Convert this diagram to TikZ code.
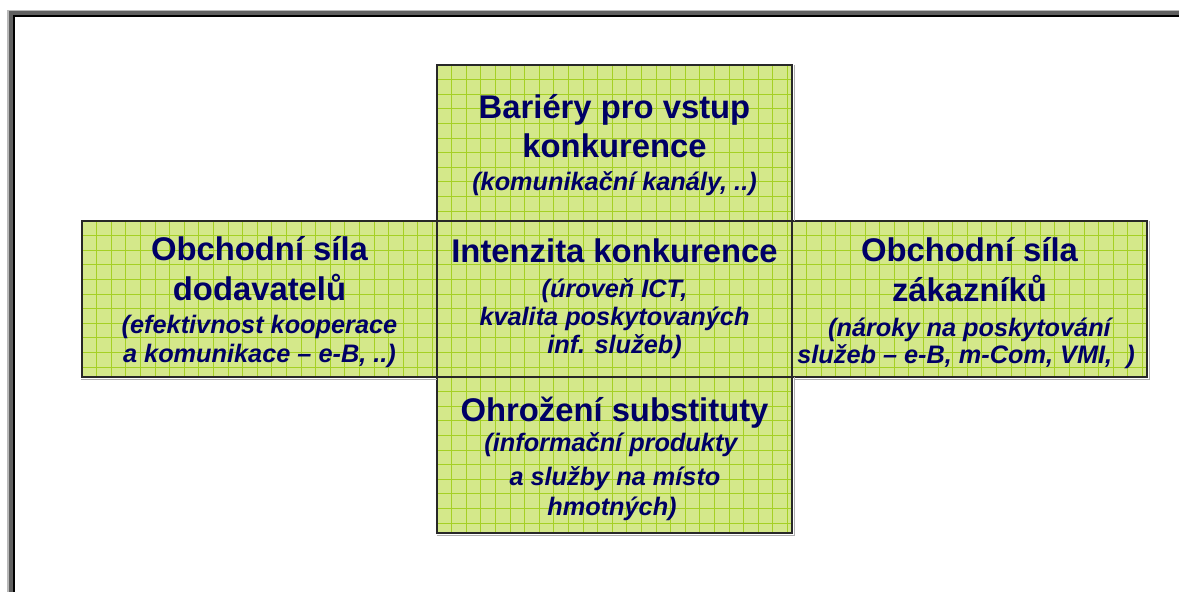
\documentclass[tikz,border=0pt]{standalone}
\usepackage{fontspec}
\setmainfont{Liberation Sans}
\definecolor{cellfill}{RGB}{212,232,138}
\definecolor{gridc}{RGB}{165,208,36}
\definecolor{navy}{RGB}{0,0,102}
\definecolor{frameA}{RGB}{185,185,185}
\definecolor{frameB}{RGB}{96,96,96}
\definecolor{boxline}{RGB}{40,40,40}
\definecolor{shadowc}{RGB}{175,175,175}
\tikzset{
  gridline/.style={draw=gridc, line width=1pt},
  shadowline/.style={draw=shadowc, line width=1.2pt},
  cell/.style={draw=boxline, line width=1.4pt, fill=cellfill,
    minimum width=355pt, minimum height=156pt, inner sep=0pt,
    path picture={
      \foreach \k in {1,...,25}{
        \draw[gridline] ([xshift=\k*14.6pt]path picture bounding box.north west) -- ([xshift=\k*14.6pt]path picture bounding box.south west);
        \draw[gridline] ([yshift=-\k*14.6pt]path picture bounding box.north west) -- ([yshift=-\k*14.6pt]path picture bounding box.north east);
      }
    }},
  ttl/.style={anchor=base, inner sep=0pt, text=navy, font=\fontsize{32.8}{40}\selectfont\bfseries},
  sub/.style={anchor=base, inner sep=0pt, text=navy, font=\fontsize{25.3}{28}\selectfont\bfseries\itshape}
}
\begin{document}
\begin{tikzpicture}[x=1pt,y=-1pt]
\useasboundingbox (0,0) rectangle (1179,592);
% frame
\fill[frameA] (7.3,10) rectangle (1179,592);
\fill[frameB] (9,11) rectangle (1179,592);
\fill[black] (13.3,15.3) rectangle (1179,592);
\fill[white] (15,17.3) rectangle (1179,592);
% boxes
\node[cell] (topbox) at (614.5,143) {};
\node[cell] (leftbox) at (259.5,299) {};
\node[cell] (centerbox) at (614.5,299) {};
\node[cell] (rightbox) at (969.5,299) {};
\node[cell] (bottombox) at (614.5,455) {};
% light shadows on outer right/bottom edges
\draw[shadowline] ([xshift=1.6pt,yshift=-1pt]topbox.north east) -- ([xshift=1.6pt,yshift=0.7pt]topbox.south east);
\draw[shadowline] ([xshift=1.6pt,yshift=-1pt]rightbox.north east) -- ([xshift=1.6pt,yshift=-1.6pt]rightbox.south east) -- ([xshift=1pt,yshift=-1.6pt]centerbox.south east);
\draw[shadowline] ([yshift=-1.6pt]leftbox.south west) -- ([xshift=-0.7pt,yshift=-1.6pt]leftbox.south east);
\draw[shadowline] ([xshift=1.6pt,yshift=-0.7pt]bottombox.north east) -- ([xshift=1.6pt,yshift=-1.6pt]bottombox.south east) -- ([xshift=1pt,yshift=-1.6pt]bottombox.south west);
% top texts
\node[ttl] (t1) at (614.5,118) {Bariéry pro vstup};
\node[ttl] (t2) at (614.5,157) {konkurence};
\node[sub] (t3) at (614.5,190) {(komunikační kanály, ..)};
% center texts
\node[ttl] (c1) at (614.5,262) {Intenzita konkurence};
\node[sub] (c2) at (614.5,297) {(úroveň ICT,};
\node[sub] (c3) at (614.5,325) {kvalita poskytovaných};
\node[sub] (c4) at (614.5,353) {inf. služeb)};
% left texts
\node[ttl] (l1) at (259.5,260) {Obchodní síla};
\node[ttl] (l2) at (259.5,300) {dodavatelů};
\node[sub] (l3) at (259.5,333) {(efektivnost kooperace};
\node[sub] (l4) at (259.5,362) {a komunikace – e-B, ..)};
% right texts
\node[ttl] (r1) at (969.5,261.5) {Obchodní síla};
\node[ttl] (r2) at (969.5,301.5) {zákazníků};
\node[sub] (r3) at (969.5,336.5) {(nároky na poskytování};
\node[sub] (r4) at (966,363.5) {služeb – e-B, m-Com, VMI,\ \ )};
% bottom texts
\node[ttl] (b1) at (614.5,421.5) {Ohrožení substituty};
\node[sub] (b2) at (611,451.5) {(informační produkty};
\node[sub] (b3) at (615,485) {a služby na místo};
\node[sub] (b4) at (612,515) {hmotných)};
\end{tikzpicture}
\end{document}
